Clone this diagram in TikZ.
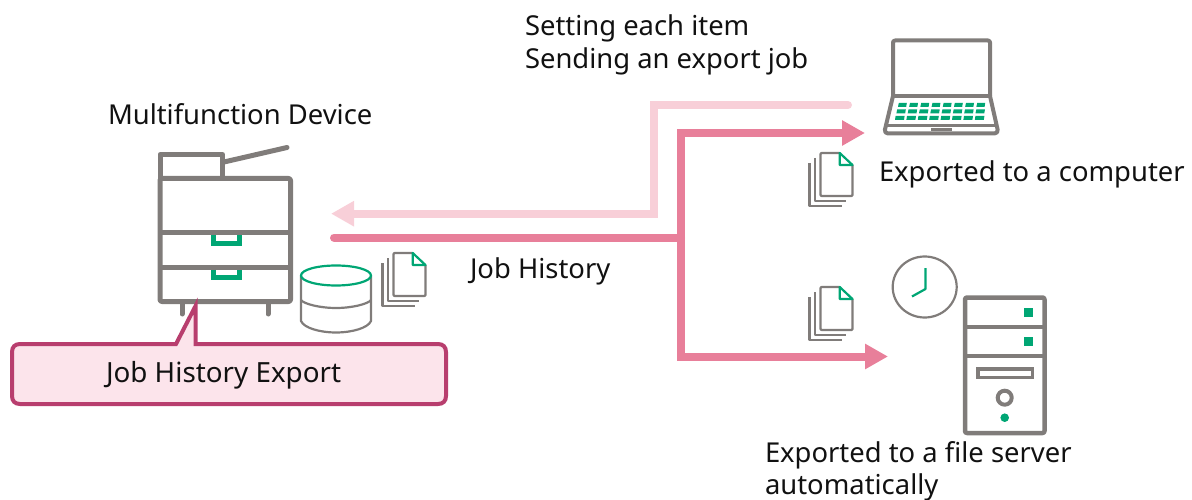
\documentclass[tikz,border=0pt]{standalone}
\usepackage{fontspec}
\setmainfont{Noto Sans}
\usetikzlibrary{arrows.meta}
\definecolor{greyc}{HTML}{807C7A}
\definecolor{greenc}{HTML}{00A674}
\definecolor{lightp}{HTML}{F8CFD8}
\definecolor{darkp}{HTML}{E87F9A}
\definecolor{calloutd}{HTML}{B83E6E}
\definecolor{calloutf}{HTML}{FCE4EB}
\definecolor{inkc}{HTML}{111111}
\tikzset{
  x=1pt,y=-1pt,
  label text/.style={anchor=base west,inner sep=0pt,outer sep=0pt,text=inkc,font=\fontsize{27.4}{32}\selectfont},
  icon/.style={draw=greyc,line width=5pt,line join=round},
  thin icon/.style={draw=greyc,line width=2.2pt,line join=round},
  green line/.style={draw=greenc,line join=round},
  pale flow/.style={draw=lightp,line width=8pt,line cap=round},
  strong flow/.style={draw=darkp,line width=8pt},
  pale tip/.style={-{Triangle[length=23pt,width=24pt]}},
  strong tip/.style={-{Triangle[length=23pt,width=24pt]}},
}
\newcommand{\docstack}[2]{%
  \begin{scope}[shift={(#1,#2)}]
    \draw[thin icon] (382.5,263) -- (382.5,306) -- (414.5,306);
    \draw[thin icon] (388,258) -- (388,301) -- (419,301);
    \draw[thin icon,rounded corners=1pt,fill=white] (412.7,253) -- (393.5,253) -- (393.5,296) -- (425.5,296) -- (425.5,265);
    \draw[green line,line width=2.2pt,fill=white] (412.7,253) -- (425.5,265) -- (412.7,265) -- cycle;
  \end{scope}}
\begin{document}
\begin{tikzpicture}
\useasboundingbox (0,0) rectangle (1192,500);

% multifunction device
\draw[icon,rounded corners=2pt] (160,178.5) rectangle (290.5,301.5);
\draw[icon] (160,178.5) -- (160,154.5) -- (222.5,154.5) -- (222.5,178.5);
\draw[icon,line cap=round] (224,162) -- (287,147.5);
\draw[icon] (160,232.7) -- (290.5,232.7);
\draw[icon] (160,267) -- (290.5,267);
\draw[icon,line cap=round] (182,304) -- (182,314);
\draw[icon,line cap=round] (268,304) -- (268,314);
\draw[green line,line width=5.2pt,line join=miter] (213.3,235) -- (213.3,243.5) -- (239.1,243.5) -- (239.1,235);
\draw[green line,line width=5.2pt,line join=miter] (213.3,269.5) -- (213.3,277.5) -- (239.1,277.5) -- (239.1,269.5);

% callout
\draw[draw=calloutd,fill=calloutf,line width=4pt,line join=miter]
  (176,344) -- (195.5,306) -- (195.5,344) -- (438,344)
  .. controls (443,344) and (446,347) .. (446,352) -- (446,396)
  .. controls (446,401) and (443,404) .. (438,404) -- (20,404)
  .. controls (15,404) and (12,401) .. (12,396) -- (12,352)
  .. controls (12,347) and (15,344) .. (20,344) -- cycle;
\node[label text,font=\fontsize{27.8}{32}\selectfont] (calloutlabel) at (106,382.5) {Job History Export};

% database
\draw[thin icon,line width=2.2pt] (301,276) -- (301,321) .. controls (304,328) and (320,332.5) .. (336,332.5) .. controls (352,332.5) and (368,328) .. (371,321) -- (371,276);
\draw[thin icon,line width=2.2pt] (301,300) .. controls (304,304) and (320,308) .. (336,308) .. controls (352,308) and (368,304) .. (371,300);
\draw[green line,line width=2.2pt,fill=white] (336,275.5) ellipse[x radius=35pt,y radius=10pt];

% documents
\docstack{0}{0}
\docstack{427}{-100}
\docstack{427}{34}

% laptop
\draw[icon,line width=4pt,rounded corners=2pt] (893,96) -- (893,40.5) -- (990,40.5) -- (990,96);
\draw[icon,line width=4pt] (893,96) -- (990,96);
\draw[icon,line width=4pt,rounded corners=4pt] (893,96) -- (884,133.5) -- (998.5,133.5) -- (990,96);
\draw[icon,line width=3pt] (885,126) -- (998,126);
\draw[icon,line width=2.5pt] (931,129.5) -- (952,129.5);
\foreach \col in {0,...,7}{
  \fill[greenc] (898.8+\col*11.2,103) -- (906.8+\col*11.2,103) -- (906.2+\col*11.2,106.8) -- (898+\col*11.2,106.8) -- cycle;
  \fill[greenc] (897.2+\col*11.3,109.5) -- (905.8+\col*11.3,109.5) -- (905.2+\col*11.3,113.3) -- (896.4+\col*11.3,113.3) -- cycle;
  \fill[greenc] (895.6+\col*11.4,116) -- (904.6+\col*11.4,116) -- (904+\col*11.4,119.8) -- (895+\col*11.4,119.8) -- cycle;
}

% clock
\draw[thin icon] (924.7,287) ellipse[x radius=32pt,y radius=30.5pt];
\draw[green line,line width=2.2pt] (925.5,268) -- (925.5,289) -- (912,296.5);

% server
\draw[icon,line width=4.5pt,rounded corners=2pt] (965,297.5) rectangle (1044.5,433);
\draw[icon,line width=4.5pt] (965,327) -- (1044.5,327);
\draw[icon,line width=4pt] (965,356.3) -- (1044.5,356.3);
\fill[greenc] (1024,308) rectangle (1033,317);
\fill[greenc] (1024,337) rectangle (1033,346);
\draw[icon,line width=3.5pt,line join=miter] (977.8,368.8) rectangle (1032.5,377.5);
\draw[icon,line width=4pt] (1004.7,397.7) circle[radius=7pt];
\fill[greenc] (1004.7,417.7) circle[radius=4.3pt];

% connector ends
\coordinate (paleStart) at (848,105);
\coordinate (paleBendA) at (654,105);
\coordinate (paleBendB) at (654,213.7);
\coordinate (mfdIn) at (331,213.7);
\coordinate (mfdOut) at (334,237.5);
\coordinate (junction) at (681,237.5);
\coordinate (bendTop) at (681,133);
\coordinate (toComputer) at (865,133);
\coordinate (bendBottom) at (681,356.5);
\coordinate (toServer) at (888,356.5);

\draw[pale flow,pale tip,line cap=butt] (paleBendB) -- (mfdIn);
\draw[pale flow,line cap=round,line join=miter] (paleStart) -- (paleBendA) -- (paleBendB) -- ([xshift=-40pt]paleBendB);
\draw[strong flow,line cap=round] (mfdOut) -- (junction);
\draw[strong flow,strong tip] (junction) -- (bendTop) -- (toComputer);
\draw[strong flow,strong tip] (junction) -- (bendBottom) -- (toServer);

% labels
\node[label text] (setitem) at (525,36) {Setting each item};
\node[label text] (sendjob) at (525,69) {Sending an export job};
\node[label text] (mfd) at (108,125) {Multifunction Device};
\node[label text] (computer) at (879,182) {Exported to a computer};
\node[label text] (history) at (470,278) {Job History};
\node[label text] (fileserver) at (765,462) {Exported to a file server};
\node[label text] (auto) at (765,494) {automatically};
\end{tikzpicture}
\end{document}
